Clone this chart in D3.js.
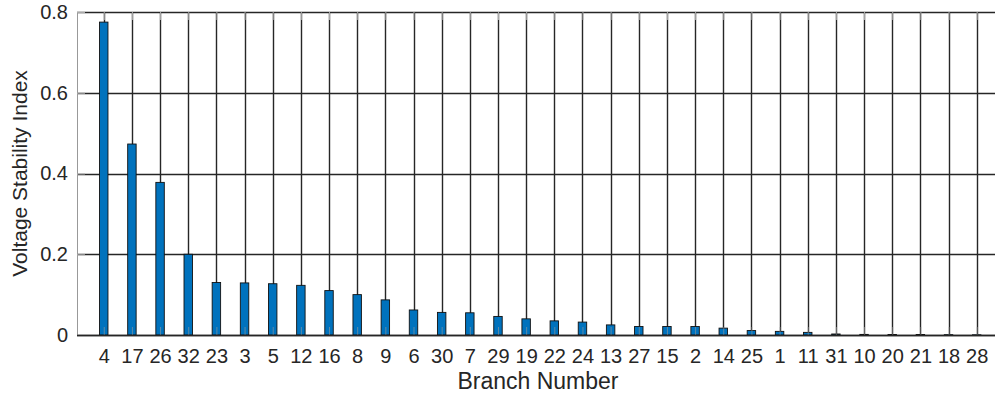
<!DOCTYPE html>
<html>
<head>
<meta charset="utf-8">
<script src="https://d3js.org/d3.v7.min.js"></script>
<style>
  body { margin: 0; background: #fff; }
  text { font-family: "Liberation Sans", Arial, sans-serif; fill: #262626; }
</style>
</head>
<body>
<div id="main"></div>
<script>
// branch order as plotted (sorted by index)
var branches = ["4","17","26","32","23","3","5","12","16","8","9","6","30","7","29","19",
                "22","24","13","27","15","2","14","25","1","11","31","10","20","21","18","28"];
var vsi = [0.775, 0.473, 0.378, 0.200, 0.130, 0.129, 0.127, 0.123, 0.110, 0.100, 0.087,
           0.062, 0.056, 0.055, 0.046, 0.040, 0.035, 0.032, 0.025, 0.021, 0.021, 0.021,
           0.017, 0.011, 0.009, 0.0065, 0.0025, 0.0015, 0.0013, 0.0012, 0.0008, 0.0005];
var yTicks = [0, 0.2, 0.4, 0.6, 0.8];

var winWidth = 995, winHeight = 396;
var padL = 77, padR = 995, padT = 12, padB = 335; // plot box edges
var fontFam = '"Liberation Sans", Arial, sans-serif';

var svg = d3.select('#main').append('svg')
  .attr('width', winWidth)
  .attr('height', winHeight);

var x = d3.scaleLinear().domain([0.05, 32.65]).range([padL, padR]);
var y = d3.scaleLinear().domain([0, 0.8]).range([padB, padT]);
var idx = d3.range(1, branches.length + 1);
var barW = 0.3 * (x(2) - x(1));

// grid lines
svg.append('g').selectAll('line').data(idx).enter().append('line')
  .attr('x1', d => Math.round(x(d)) + 0.5).attr('x2', d => Math.round(x(d)) + 0.5)
  .attr('y1', padT).attr('y2', padB)
  .attr('stroke', '#262626').attr('stroke-width', 1.4);
svg.append('g').selectAll('line').data(yTicks).enter().append('line')
  .attr('x1', padL).attr('x2', padR)
  .attr('y1', d => Math.round(y(d)) + 0.5).attr('y2', d => Math.round(y(d)) + 0.5)
  .attr('stroke', '#262626').attr('stroke-width', 1.3);

// bars
svg.append('g').selectAll('rect').data(vsi).enter().append('rect')
  .attr('x', (d, i) => x(i + 1) - barW / 2)
  .attr('y', d => y(d))
  .attr('width', barW)
  .attr('height', d => padB - y(d))
  .attr('fill', '#0072BD')
  .attr('stroke', '#111')
  .attr('stroke-width', 0.9);

// axes
var xAxis = d3.axisBottom(x).tickValues(idx)
  .tickFormat((d, i) => branches[i]).tickSize(-8).tickPadding(14);
var gx = svg.append('g').attr('transform', 'translate(0,' + padB + ')').call(xAxis);
gx.select('.domain').remove();
gx.selectAll('.tick line').attr('stroke', '#999').attr('stroke-opacity', 0.6);
gx.selectAll('text').style('font-size', '20px').style('font-family', fontFam)
  .attr('fill', '#262626');

var gxTop = svg.append('g').attr('transform', 'translate(0,' + padT + ')')
  .call(d3.axisTop(x).tickValues(idx).tickSize(-8).tickFormat(''));
gxTop.select('.domain').remove();
gxTop.selectAll('.tick line').attr('stroke', '#aaa');

var yAxis = d3.axisLeft(y).tickValues(yTicks).tickFormat(d3.format('')).tickSize(-8).tickPadding(9);
var gy = svg.append('g').attr('transform', 'translate(' + padL + ',0)').call(yAxis);
gy.select('.domain').attr('stroke', '#999');
gy.selectAll('.tick line').attr('stroke', '#aaa');
gy.selectAll('text').style('font-size', '20px').style('font-family', fontFam)
  .attr('fill', '#262626');

// baseline
svg.append('line').attr('x1', padL).attr('x2', padR).attr('y1', padB + 0.5).attr('y2', padB + 0.5)
  .attr('stroke', '#262626').attr('stroke-width', 1.4);

// labels
svg.append('text').attr('x', (padL + padR) / 2 + 2).attr('y', 389)
  .attr('text-anchor', 'middle').style('font-size', '23px').text('Branch Number');
svg.append('text').attr('transform', 'translate(27,' + (padT + padB) / 2 + ') rotate(-90)')
  .attr('text-anchor', 'middle').style('font-size', '21px').text('Voltage Stability Index');
</script>
</body>
</html>
